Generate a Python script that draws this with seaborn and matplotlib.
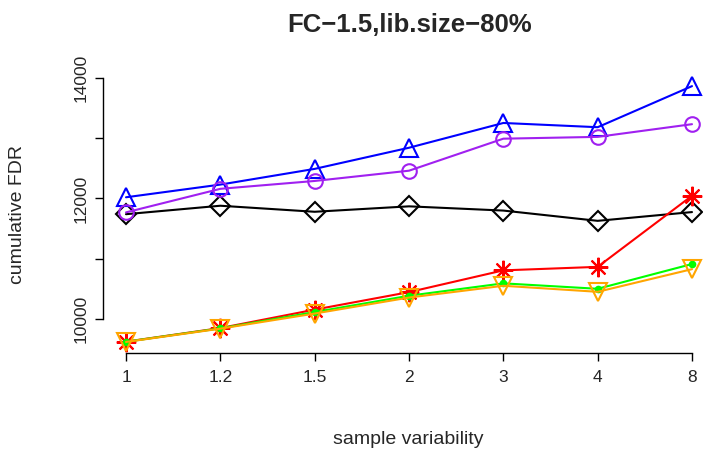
import numpy as np
import pandas as pd
import seaborn as sns
from matplotlib import pyplot as plt

# sample variability levels (equally spaced on the axis)
variability = ["1", "1.2", "1.5", "2", "3", "4", "8"]

# cumulative FDR per method
fdr_blue = [12020, 12230, 12490, 12840, 13250, 13180, 13860]
fdr_purple = [11770, 12160, 12290, 12460, 12990, 13020, 13230]
fdr_black = [11740, 11880, 11780, 11870, 11800, 11630, 11775]
fdr_red = [9630, 9855, 10160, 10450, 10810, 10868, 12045]
fdr_green = [9628, 9850, 10120, 10390, 10595, 10505, 10915]
fdr_orange = [9625, 9845, 10095, 10360, 10555, 10455, 10830]

sns.set_style("ticks")
plt.rcParams['font.family'] = ['Liberation Sans', 'DejaVu Sans']

fig = plt.figure(figsize=(7.03, 4.55), dpi=100)
ax = fig.add_axes([103 / 703, (455 - 352.7) / 455, 600 / 703, 282.7 / 455])

pos = np.arange(len(variability))
series = [
    (fdr_black, "black", "D", 10),
    (fdr_blue, "blue", "^", 13),
    (fdr_purple, "#A020F0", "o", 10.5),
    (fdr_red, "red", (8, 2, 0), 14),
    (fdr_green, "#00FF00", ".", 8),
    (fdr_orange, "orange", "v", 13),
]
for vals, col, mk, ms in series:
    df = pd.DataFrame({"x": pos, "y": vals})
    filled = mk == "."
    sns.lineplot(data=df, x="x", y="y", ax=ax, color=col, linewidth=1.5,
                 marker=mk, markersize=ms, mfc=col if filled else "none",
                 mec=col, mew=1.5, clip_on=False)

ax.set_xlim(-23 / 94.33, 6 + 11 / 94.33)
ax.set_ylim(9447, 14127)
ax.set_xticks(pos)
ax.set_xticklabels(variability)
ax.set_yticks([10000, 11000, 12000, 13000, 14000])
ax.set_yticklabels(["10000", "", "12000", "", "14000"], rotation=90, va="center")
ax.tick_params(axis="both", direction="out", length=5.5, width=1, labelsize=12.5,
               color="black", pad=5)
ax.tick_params(axis="x", pad=7)

for s in ["top", "right"]:
    ax.spines[s].set_visible(False)
ax.spines["left"].set_bounds(10000, 14000)
ax.spines["bottom"].set_bounds(0, 6)
for s in ["left", "bottom"]:
    ax.spines[s].set_linewidth(1)
    ax.spines[s].set_color("black")

ax.set_xlabel("sample variability", fontsize=14)
ax.set_ylabel("cumulative FDR", fontsize=14)
ax.xaxis.set_label_coords((408 - 103) / 600, (352.7 - 440) / 282.7)
ax.yaxis.set_label_coords((18 - 103) / 600, (352.7 - 214) / 282.7)
ax.xaxis.label.set_va("center")
ax.yaxis.label.set_va("center")
fig.text(410 / 703, 1 - 25 / 455, "FC\u22121.5,lib.size\u221280%", fontsize=18.5,
         fontweight="bold", ha="center", va="center")

fig.savefig("out.png", dpi=100)
